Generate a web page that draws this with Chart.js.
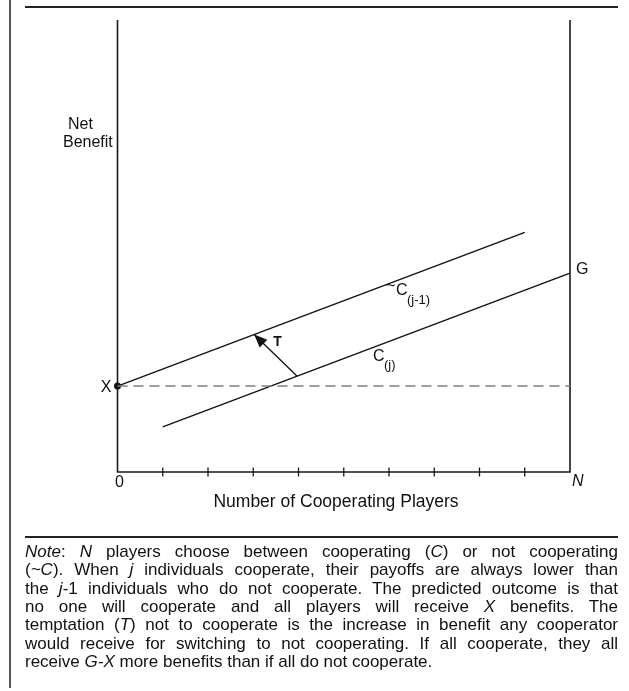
<!DOCTYPE html>
<html>
<head>
<meta charset="utf-8">
<script src="https://cdn.jsdelivr.net/npm/chart.js@4.4.1/dist/chart.umd.min.js"></script>
<style>
  html, body { margin:0; padding:0; background:#fff; }
  body { width:629px; height:691px; position:relative; overflow:hidden; font-family:"Liberation Sans", Arial, sans-serif; color:#111; }
  #wrap { position:absolute; left:0; top:0; width:629px; height:691px; }
  .rule { position:absolute; background:#222; }
  .note { position:absolute; left:25px; width:593px; font-size:17px; line-height:18.35px; top:543px; }
  .note div { text-align:justify; text-align-last:justify; white-space:nowrap; }
  .note div.last { text-align:left; text-align-last:left; }
</style>
</head>
<body>
<div id="wrap"><canvas id="c"></canvas></div>
<div class="rule" style="left:9px;top:0;width:2px;height:688px;background:#555;"></div>
<div class="rule" style="left:25px;top:6px;width:593px;height:2px;"></div>
<div class="rule" style="left:25px;top:536px;width:593px;height:1.6px;"></div>
<div class="note" id="note"></div>
<script>
// ---- data ----
const xTicks = [1, 2, 3, 4, 5, 6, 7, 8, 9];
const xMin = 0, xMax = 10;           // 0 ... N
const yMin = 0, yMax = 10;
const defectX = [0, 9];              // ~C(j-1) line
const defectY = [1.9, 5.3];
const coopX = [1, 10];               // C(j) line
const coopY = [1.0, 4.4];
const xBenefit = 1.9;                // X
const gBenefit = 4.4;                // G
const temptX = [3.97, 3.02];         // T arrow (tail on C, head on ~C)
const temptY = [2.12, 3.04];
const axisLabels = { y: ["Net", "Benefit"], x: "Number of Cooperating Players", origin: "0", end: "N" };

const noteLines = [
  '<i>Note</i>: <i>N</i> players choose between cooperating (<i>C</i>) or not cooperating',
  '(<i>~C</i>). When <i>j</i> individuals cooperate, their payoffs are always lower than',
  'the <i>j</i>-1 individuals who do not cooperate. The predicted outcome is that',
  'no one will cooperate and all players will receive <i>X</i> benefits. The',
  'temptation (<i>T</i>) not to cooperate is the increase in benefit any cooperator',
  'would receive for switching to not cooperating. If all cooperate, they all',
  'receive <i>G-X</i> more benefits than if all do not cooperate.'
];
document.getElementById('note').innerHTML = noteLines.map((l, i) =>
  '<div' + (i === noteLines.length - 1 ? ' class="last"' : '') + '>' + l + '</div>').join('');

const pts = (xs, ys) => xs.map((v, i) => ({ x: v, y: ys[i] }));

const overlay = {
  id: 'overlay',
  beforeDatasetsDraw(chart) {
    const { ctx, scales: { x, y } } = chart;
    ctx.save();
    ctx.strokeStyle = '#1a1a1a';
    ctx.lineWidth = 1.6;
    ctx.beginPath();
    ctx.moveTo(x.getPixelForValue(xMin), y.getPixelForValue(yMax));
    ctx.lineTo(x.getPixelForValue(xMin), y.getPixelForValue(yMin));
    ctx.lineTo(x.getPixelForValue(xMax), y.getPixelForValue(yMin));
    ctx.lineTo(x.getPixelForValue(xMax), y.getPixelForValue(yMax));
    ctx.stroke();
    ctx.lineWidth = 1.3;
    const y0 = y.getPixelForValue(yMin);
    xTicks.forEach(t => {
      const px = x.getPixelForValue(t);
      ctx.beginPath();
      ctx.moveTo(px, y0 - 4.5);
      ctx.lineTo(px, y0 + 4.5);
      ctx.stroke();
    });
    ctx.restore();
  },
  afterDatasetsDraw(chart) {
    const { ctx, scales: { x, y } } = chart;
    const P = (a, b) => [x.getPixelForValue(a), y.getPixelForValue(b)];
    ctx.save();
    // arrowhead
    const [tx, ty] = P(temptX[1], temptY[1]);
    const [sx, sy] = P(temptX[0], temptY[0]);
    const ang = Math.atan2(ty - sy, tx - sx);
    const L = 13, W = 5.5;
    ctx.fillStyle = '#111';
    ctx.beginPath();
    ctx.moveTo(tx, ty);
    ctx.lineTo(tx - L * Math.cos(ang) + W * Math.sin(ang), ty - L * Math.sin(ang) - W * Math.cos(ang));
    ctx.lineTo(tx - L * Math.cos(ang) - W * Math.sin(ang), ty - L * Math.sin(ang) + W * Math.cos(ang));
    ctx.closePath();
    ctx.fill();

    const F = '"Liberation Sans", Arial, sans-serif';
    ctx.fillStyle = '#111';
    ctx.textBaseline = 'alphabetic';
    // X and G
    ctx.font = '16px ' + F;
    ctx.textAlign = 'right';
    let [a, b] = P(xMin, xBenefit);
    ctx.fillText('X', a - 6, b + 5.5);
    ctx.textAlign = 'left';
    [a, b] = P(xMax, gBenefit);
    ctx.fillText('G', a + 6, b + 1);
    // 0 and N
    [a, b] = P(xMin, yMin);
    ctx.textAlign = 'center';
    ctx.fillText(axisLabels.origin, a + 2, b + 15);
    [a, b] = P(xMax, yMin);
    ctx.textAlign = 'left';
    ctx.font = 'italic 16px ' + F;
    ctx.fillText(axisLabels.end, a + 2, b + 14);
    // T
    ctx.font = 'bold 14px ' + F;
    ctx.fillText('T', tx + 19, ty + 11);
    // ~C(j-1)
    ctx.font = '16px ' + F;
    ctx.fillText('~', 386, 291);
    ctx.fillText('C', 396, 295);
    ctx.font = '13px ' + F;
    ctx.fillText('(j-1)', 407, 304);
    // C(j)
    ctx.font = '16px ' + F;
    ctx.fillText('C', 373, 361);
    ctx.font = '13px ' + F;
    ctx.fillText('(j)', 384, 369);
    // axis titles
    ctx.font = '16px ' + F;
    ctx.textAlign = 'left';
    ctx.fillText(axisLabels.y[0], 68, 129);
    ctx.fillText(axisLabels.y[1], 63, 147);
    ctx.font = '17.5px ' + F;
    ctx.textAlign = 'center';
    const ca = chart.chartArea;
    ctx.fillText(axisLabels.x, 336, ca.bottom + 35);
    ctx.restore();
  }
};

new Chart(document.getElementById('c'), {
  type: 'scatter',
  data: {
    datasets: [
      { data: pts([xMin, xMax], [xBenefit, xBenefit]), showLine: true, borderColor: '#808080', borderWidth: 1.5, borderDash: [10, 6], pointRadius: 0, clip: false },
      { data: pts(defectX, defectY), showLine: true, borderColor: '#111', borderWidth: 1.3, pointRadius: 0, clip: false },
      { data: pts(coopX, coopY), showLine: true, borderColor: '#111', borderWidth: 1.3, pointRadius: 0, clip: false },
      { data: pts(temptX, temptY), showLine: true, borderColor: '#111', borderWidth: 1.3, pointRadius: 0, clip: false },
      { data: pts([xMin], [xBenefit]), showLine: false, pointRadius: 3.5, pointBackgroundColor: '#111', pointBorderColor: '#111', pointBorderWidth: 0, clip: false }
    ]
  },
  options: {
    responsive: true,
    maintainAspectRatio: false,
    animation: false,
    events: [],
    layout: { padding: { left: 117.5, right: 59, top: 20, bottom: 219 } },
    plugins: { legend: { display: false }, tooltip: { enabled: false } },
    scales: {
      x: { type: 'linear', min: xMin, max: xMax, display: false },
      y: { type: 'linear', min: yMin, max: yMax, display: false }
    }
  },
  plugins: [overlay]
});
</script>
</body>
</html>
